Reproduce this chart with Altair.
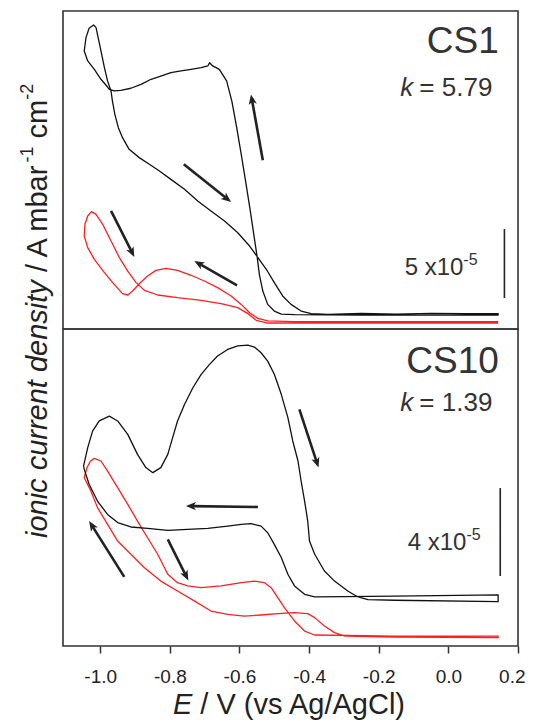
import math
import altair as alt
import pandas as pd

# ---------------- data (E in V vs Ag/AgCl, I in units of 1e-5 A mbar^-1 cm^-2) ----------------
E_DOMAIN = [-1.107, 0.2]
X_TICKS = [-1.0, -0.8, -0.6, -0.4, -0.2, 0.0, 0.2]

CS1_DOMAIN = [0, 23.38]
CS10_DOMAIN = [0, 14.41]

cs1_black_E = [-0.969, -0.965, -0.958, -0.948, -0.936, -0.917, -0.888, -0.859, -0.830, -0.797,
               -0.758, -0.720, -0.682, -0.643, -0.605, -0.571, -0.547, -0.523, -0.500, -0.476,
               -0.452, -0.423, -0.394, -0.346, -0.250, -0.150, -0.050, 0.050, 0.143,
               0.143, 0.000, -0.250, -0.442, -0.480, -0.500, -0.519, -0.533, -0.543, -0.549,
               -0.559, -0.569, -0.581, -0.595, -0.608, -0.622, -0.637, -0.658, -0.677, -0.686,
               -0.691, -0.710, -0.739, -0.768, -0.797, -0.826, -0.854, -0.883, -0.912, -0.941,
               -0.960, -0.974, -0.979, -0.998, -1.017, -1.036, -1.046, -1.041, -1.032, -1.019,
               -1.012, -1.006, -0.998, -0.988, -0.979, -0.969]
cs1_black_I = [17.50, 16.76, 15.78, 14.80, 14.07, 13.21, 12.60, 12.11, 11.62, 11.00,
               10.27, 9.41, 8.68, 7.94, 7.08, 6.10, 5.25, 4.39, 3.41, 2.43,
               1.81, 1.32, 1.13, 1.08, 1.14, 1.10, 1.15, 1.12, 1.13,
               1.03, 1.02, 1.03, 1.05, 1.10, 1.32, 1.81, 2.79, 4.02, 5.25,
               6.96, 8.68, 10.64, 12.84, 14.80, 16.76, 18.24, 19.09, 19.34, 19.58,
               19.34, 19.22, 19.09, 18.97, 18.85, 18.60, 18.36, 17.99, 17.70, 17.55,
               17.50, 17.62, 17.79, 18.36, 19.09, 19.71, 20.44, 21.42, 22.11, 22.35,
               22.16, 21.42, 20.44, 19.22, 18.24, 17.50]

cs1_red_E = [0.143, -0.250, -0.442, -0.519, -0.547, -0.571, -0.595, -0.624, -0.663, -0.701,
             -0.739, -0.778, -0.811, -0.840, -0.864, -0.888, -0.907, -0.921, -0.936, -0.960,
             -0.988, -1.017, -1.036, -1.046, -1.044, -1.036, -1.025, -1.012, -0.993, -0.969,
             -0.945, -0.921, -0.897, -0.873, -0.835, -0.778, -0.710, -0.653, -0.605, -0.576,
             -0.552, -0.519, 0.143]
cs1_red_I = [0.54, 0.54, 0.54, 0.59, 0.78, 1.20, 1.81, 2.43, 3.04, 3.53,
             3.95, 4.31, 4.46, 4.31, 3.90, 3.33, 2.79, 2.50, 2.60, 3.28,
             4.14, 5.12, 5.98, 6.84, 7.70, 8.31, 8.63, 8.43, 7.70, 6.47,
             5.25, 4.26, 3.41, 2.84, 2.50, 2.30, 2.11, 1.86, 1.57, 1.13,
             0.64, 0.44, 0.44]

cs10_black_E = [-1.048, -1.036, -1.022, -1.003, -0.974, -0.950, -0.921, -0.893, -0.869, -0.849,
                -0.826, -0.806, -0.792, -0.778, -0.758, -0.734, -0.710, -0.686, -0.663, -0.634,
                -0.605, -0.576, -0.557, -0.538, -0.519, -0.500, -0.480, -0.461, -0.447, -0.432,
                -0.423, -0.413, -0.404, -0.399, -0.384, -0.356, -0.327, -0.289, -0.260, -0.231,
                -0.154, 0.143, 0.143, -0.154, -0.298, -0.384, -0.413, -0.442, -0.461, -0.480,
                -0.500, -0.519, -0.538, -0.567, -0.595, -0.634, -0.691, -0.749, -0.806, -0.864,
                -0.912, -0.950, -0.979, -1.008, -1.032, -1.046, -1.048]
cs10_black_I = [8.18, 9.02, 9.77, 10.23, 10.45, 10.23, 9.62, 8.71, 8.11, 7.88,
                8.11, 8.71, 9.47, 10.23, 10.98, 11.74, 12.35, 12.80, 13.18, 13.48,
                13.64, 13.68, 13.59, 13.33, 12.95, 12.35, 11.44, 10.38, 9.32, 8.41,
                7.50, 6.59, 5.68, 4.77, 4.17, 3.41, 2.95, 2.50, 2.23, 2.11,
                2.08, 2.02, 2.32, 2.27, 2.24, 2.23, 2.35, 2.73, 3.26, 4.02,
                4.62, 5.15, 5.45, 5.56, 5.53, 5.45, 5.35, 5.30, 5.26, 5.35,
                5.41, 5.61, 5.98, 6.59, 7.35, 8.03, 8.18]

cs10_red_E = [-1.017, -0.998, -0.979, -0.950, -0.921, -0.893, -0.864, -0.835, -0.806, -0.778,
              -0.749, -0.710, -0.653, -0.595, -0.557, -0.528, -0.509, -0.490, -0.471, -0.442,
              -0.413, -0.384, -0.154, 0.143, 0.143, -0.154, -0.298, -0.327, -0.356, -0.384,
              -0.404, -0.442, -0.490, -0.538, -0.586, -0.634, -0.682, -0.730, -0.778, -0.826,
              -0.873, -0.912, -0.950, -0.979, -1.008, -1.027, -1.046, -1.038, -1.028, -1.017]
cs10_red_I = [8.53, 8.41, 7.95, 7.20, 6.44, 5.68, 4.92, 4.17, 3.26, 2.88,
              2.73, 2.65, 2.73, 2.88, 2.95, 2.88, 2.65, 2.20, 1.74, 1.14,
              0.68, 0.50, 0.45, 0.45, 0.38, 0.41, 0.45, 0.61, 0.91, 1.29,
              1.47, 1.52, 1.47, 1.41, 1.36, 1.44, 1.59, 2.05, 2.50, 2.95,
              3.56, 4.17, 4.77, 5.53, 6.29, 7.05, 7.65, 8.11, 8.41, 8.53]

# arrows: tail (E1, I1) -> tip (E2, I2)
cs1_arrow_E1 = [-0.533, -0.760, -0.969, -0.607]
cs1_arrow_I1 = [12.40, 12.11, 8.68, 3.21]
cs1_arrow_E2 = [-0.567, -0.624, -0.902, -0.730]
cs1_arrow_I2 = [17.25, 9.34, 5.29, 5.00]

cs10_arrow_E1 = [-0.428, -0.547, -0.806, -0.931]
cs10_arrow_I1 = [10.76, 6.32, 4.85, 3.14]
cs10_arrow_E2 = [-0.373, -0.754, -0.747, -1.032]
cs10_arrow_I2 = [8.11, 6.36, 2.98, 5.68]

# scale bars
cs1_bar = {"E": 0.161, "I1": 2.28, "I2": 7.35}
cs10_bar = {"E": 0.149, "I1": 3.18, "I2": 7.18}

# ---------------- layout constants ----------------
W = 455
H1 = 318
H2 = 317
FONT = "Liberation Sans"
ARROW_PATH = "M0,0L0.9,2.2L0,1.6L-0.9,2.2Z"
PX_PER_V = W / (E_DOMAIN[1] - E_DOMAIN[0])


def xenc(field, axis=None):
    return alt.X(f"{field}:Q", scale=alt.Scale(domain=E_DOMAIN, nice=False, zero=False),
                 axis=axis, title=None)


def yenc(field, dom):
    return alt.Y(f"{field}:Q", scale=alt.Scale(domain=dom, nice=False, zero=False),
                 axis=None, title=None)


def curve(E, I, color, width, dom, axis):
    df = pd.DataFrame({"E": E, "I": I, "o": list(range(len(E)))})
    return alt.Chart(df).mark_line(color=color, strokeWidth=width, strokeJoin="round").encode(
        x=xenc("E", axis), y=yenc("I", dom), order=alt.Order("o:Q"))


def arrows(E1, I1, E2, I2, dom, height, axis):
    ky = height / (dom[1] - dom[0])
    rows = []
    for a, b, c, d in zip(E1, I1, E2, I2):
        dx = (c - a) * PX_PER_V
        dy = -(d - b) * ky
        ln = math.hypot(dx, dy)
        ux, uy = dx / ln, dy / ln
        ang = math.degrees(math.atan2(dx, -dy)) % 360
        rows.append({"E1": a, "I1": b, "E2": c, "I2": d,
                     "E2s": c - ux * 6 / PX_PER_V, "I2s": d + uy * 6 / ky, "ang": ang})
    df = pd.DataFrame(rows)
    shafts = alt.Chart(df).mark_rule(color="#222", strokeWidth=2.6).encode(
        x=xenc("E1", axis), y=yenc("I1", dom), x2="E2s:Q", y2="I2s:Q")
    heads = alt.Chart(df).mark_point(shape=ARROW_PATH, filled=True, size=85, color="#222",
                                     opacity=1, strokeWidth=0).encode(
        x=xenc("E2", axis), y=yenc("I2", dom), angle=alt.Angle("ang:Q", scale=None))
    return [shafts, heads]


def label(text, E, I, dom, axis, size, align, italic=False, dx=0, dy=0, angle=0, color="#333"):
    df = pd.DataFrame({"E": [E], "I": [I], "t": [text]})
    kw = dict(font=FONT, fontSize=size, align=align, baseline="middle", color=color,
              dx=dx, dy=dy)
    if italic:
        kw["fontStyle"] = "italic"
    if angle:
        kw["angle"] = angle
    return alt.Chart(df).mark_text(**kw).encode(x=xenc("E", axis), y=yenc("I", dom), text="t:N")


def bar(b, dom, axis):
    df = pd.DataFrame([b])
    return alt.Chart(df).mark_rule(color="#222", strokeWidth=1.6).encode(
        x=xenc("E", axis), y=yenc("I1", dom), y2="I2:Q")


# ---------------- top panel: CS1 ----------------
d1 = CS1_DOMAIN
top_layers = [
    curve(cs1_red_E, cs1_red_I, "#ff1f1f", 1.3, d1, None),
    curve(cs1_black_E, cs1_black_I, "#111111", 1.3, d1, None),
    *arrows(cs1_arrow_E1, cs1_arrow_I1, cs1_arrow_E2, cs1_arrow_I2, d1, H1, None),
    bar(cs1_bar, d1, None),
    label("CS1", 0.145, 21.1, d1, None, 37, "right"),
    label("k", -0.092, 17.72, d1, None, 26, "right", italic=True, dx=-3),
    label("= 5.79", -0.092, 17.72, d1, None, 26, "left", dx=3),
    label("5 x10", 0.043, 4.52, d1, None, 24, "right"),
    label("-5", 0.043, 4.52, d1, None, 16, "left", dy=-8),
    # y-axis title (spans both panels)
    label("ionic current density", -1.179, -15.37, d1, None, 29, "left", italic=True,
          angle=270, color="#222"),
    label("/ A mbar", -1.179, 4.19, d1, None, 29, "left", angle=270, color="#222"),
    label("-1", -1.179, 12.25, d1, None, 18, "left", dy=-10, angle=270, color="#222"),
    label("cm", -1.179, 14.01, d1, None, 29, "left", angle=270, color="#222"),
    label("-2", -1.179, 16.86, d1, None, 18, "left", dy=-10, angle=270, color="#222"),
]
top = alt.layer(*top_layers).properties(width=W, height=H1)

# ---------------- bottom panel: CS10 ----------------
d2 = CS10_DOMAIN
xaxis = alt.Axis(values=X_TICKS, title=None, grid=False, domain=False,
                 labelExpr="datum.value < 0 ? '-' + format(abs(datum.value), '.1f') : format(datum.value, '.1f')",
                 labelFont=FONT, labelFontSize=19, labelColor="#222", labelPadding=14,
                 labelFlush=1, labelFlushOffset=7, labelOverlap=False,
                 tickSize=7, tickWidth=1.5, tickColor="#333")
bot_layers = [
    curve(cs10_red_E, cs10_red_I, "#ff1f1f", 1.3, d2, xaxis),
    curve(cs10_black_E, cs10_black_I, "#111111", 1.3, d2, xaxis),
    *arrows(cs10_arrow_E1, cs10_arrow_I1, cs10_arrow_E2, cs10_arrow_I2, d2, H2, xaxis),
    bar(cs10_bar, d2, xaxis),
    label("CS10", 0.145, 12.89, d2, xaxis, 37, "right"),
    label("k", -0.092, 11.05, d2, xaxis, 26, "right", italic=True, dx=-3),
    label("= 1.39", -0.092, 11.05, d2, xaxis, 26, "left", dx=3),
    label("4 x10", 0.052, 4.70, d2, xaxis, 24, "right"),
    label("-5", 0.052, 4.70, d2, xaxis, 16, "left", dy=-8),
    # x-axis title
    label("E", -0.724, -2.68, d2, xaxis, 29, "right", italic=True, dx=-4, color="#222"),
    label("/ V (vs Ag/AgCl)", -0.724, -2.68, d2, xaxis, 29, "left", dx=4, color="#222"),
]
bottom = alt.layer(*bot_layers).properties(width=W, height=H2)

chart = alt.vconcat(top, bottom, spacing=0, bounds="flush").resolve_scale(
    y="independent"
).properties(
    padding={"left": 10, "top": 2, "right": 0, "bottom": 0}
).configure_view(stroke="#333", strokeWidth=1.6)

chart.save("out.html", embed_options={"renderer": "svg", "actions": False})
